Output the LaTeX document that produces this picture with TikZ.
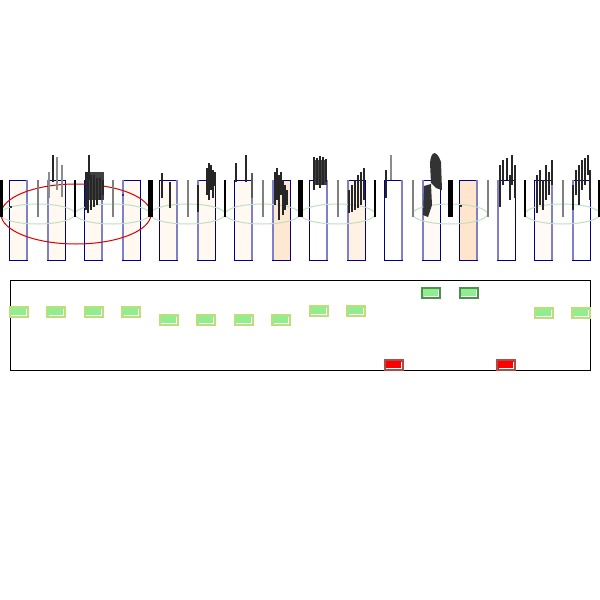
\documentclass[tikz,border=0pt]{standalone}
\usepackage{tikz}
\usepackage{xcolor}

\definecolor{navyline}{HTML}{00008B}
\definecolor{edgeblue}{HTML}{8080C8}
\definecolor{lightgreen}{HTML}{90EE90}
\definecolor{yellowgreen}{HTML}{9ACD32}
\definecolor{darkgreen}{HTML}{006400}
\definecolor{darkred}{HTML}{8B0000}

\begin{document}
\begin{tikzpicture}[
    x=1pt, y=-1pt,
    slot/.style={draw=navyline, line width=1pt},
    pairedge/.style={draw=edgeblue, line width=2pt},
    lane/.style={draw=green!50!black!25, line width=1pt},
    bar/.style={draw=gray, line width=2pt},
    tick/.style={draw=black!85, line width=1.3pt},
    faint/.style={draw=gray!90, line width=1.5pt},
    hit/.style={fill=lightgreen, draw=yellowgreen!65, line width=1.6pt},
    hitdark/.style={fill=lightgreen, draw=darkgreen!70, line width=1.6pt},
    miss/.style={fill=red, draw=darkred!70, line width=1.6pt}
]
\useasboundingbox (0,0) rectangle (600,600);

% slots
\foreach \f [count=\i from 0] in {5,5,5,5,5,5,5,18,0,10,0,4,20,0,4,0} {
  \pgfmathsetmacro\cx{18.75+37.5*\i}
  \draw[slot, fill=orange!\f] (\cx-9,180) rectangle (\cx+9,260);
  \ifodd\i
    \draw[pairedge] (\cx-8.5,180) -- (\cx-8.5,260);
  \else
    \draw[pairedge] (\cx+8.5,180) -- (\cx+8.5,260);
  \fi
}

% lanes
\foreach \c in {37.5,112.5,187.5,262.5,337.5,450,562.5}
  \draw[lane] (\c,214) ellipse [x radius=37.5, y radius=10];
\draw[red!85!black, line width=1pt] (76,214) ellipse [x radius=75, y radius=30];

% bars between slots
\foreach \k in {1,3,...,15}
  \draw[bar] (37.5*\k,180) -- (37.5*\k,217);
\foreach \k in {0,4,8,12,16}
  \draw[black, line width=5pt] (37.5*\k,180) -- (37.5*\k,217);
\foreach \k in {2,6,10,14}
  \draw[black, line width=2pt] (37.5*\k,180) -- (37.5*\k,217);

% traces
\fill[black!75] (85,172) rectangle (104,200);
\fill[black!75] (313,160) rectangle (327,185);
\fill[black!80] (431,183) -- (430,163) .. controls (431,150) and (437,150) .. (441,162) -- (442,190) -- (436,188) -- cycle;
\fill[black!80] (424,186) -- (431,184) -- (432,205) -- (428,217) -- (423,215) -- cycle;

\foreach \x/\a/\b in {53/155/182, 89/155/180, 86/172/210, 88/172/213, 91/175/210,
    94/175/207, 97/178/205, 100/178/200, 103/180/195, 162/173/198, 170/182/208,
    198/185/212, 207/168/195, 209/163/200, 211/165/190, 213/170/198, 215/172/186,
    236/163/182, 246/155/182, 275/172/205, 277/168/200, 279/175/220, 281/172/195,
    283/180/215, 285/185/210, 287/190/205, 314/157/190, 317/158/185, 320/156/188,
    323/157/185, 326/159/182, 349/190/213, 352/185/212, 355/180/210, 358/175/208,
    361/172/205, 364/168/200, 386/170/198, 500/165/207, 503/160/185, 507/158/180,
    510/175/200, 512/155/185, 515/165/198, 537/175/213, 540/170/205, 543/180/210,
    546/165/200, 549/172/195, 552/160/185, 573/185/210, 576/170/195, 579/165/205,
    582/160/190, 585/158/185, 588/155/175, 590/170/200}
  \draw[tick] (\x,\a) -- (\x,\b);
\foreach \x/\a/\b in {49/172/198, 57/157/190, 62/165/197, 391/155/180}
  \draw[faint] (\x,\a) -- (\x,\b);
\draw[draw=black!65, line width=2.5pt] (252,173) -- (252,198);
\foreach \x/\y in {11/207, 123/195, 461/206}
  \fill[black!80] (\x-1,\y-1) rectangle (\x+1,\y+1);

% result strip
\draw[black, line width=1pt] (10,280) rectangle (590,370);
\foreach \i/\y/\s in {0/307/hit, 1/307/hit, 2/307/hit, 3/307/hit,
    4/315/hit, 5/315/hit, 6/315/hit, 7/315/hit, 8/306/hit, 9/306/hit,
    10/360/miss, 11/288/hitdark, 12/288/hitdark, 13/360/miss,
    14/308/hit, 15/308/hit} {
  \pgfmathsetmacro\cx{18.75+37.5*\i}
  \draw[\s] (\cx-9,\y) rectangle (\cx+9,\y+10);
  \draw[white, line width=0.6pt] (\cx+7.5,\y+1.5) -- (\cx+7.5,\y+8.5) -- (\cx-7.5,\y+8.5);
}
\end{tikzpicture}
\end{document}
